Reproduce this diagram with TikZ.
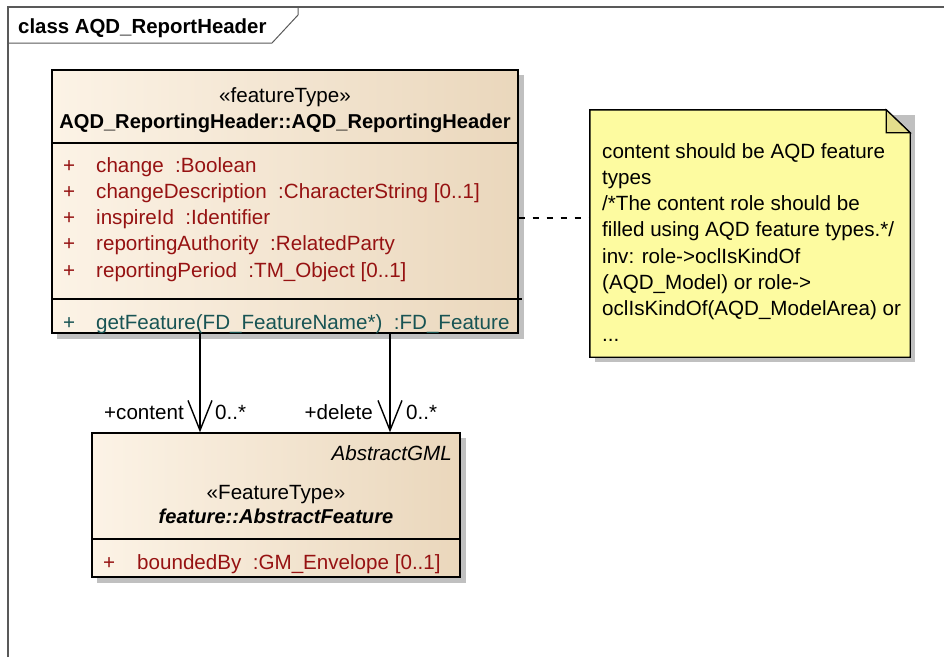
\documentclass[tikz,border=0pt]{standalone}
\usepackage{fontspec}
\setmainfont{Liberation Sans}
\usetikzlibrary{arrows.meta}

\definecolor{boxleft}{RGB}{252,243,230}
\definecolor{boxright}{RGB}{234,215,188}
\definecolor{attrred}{RGB}{150,18,18}
\definecolor{opteal}{RGB}{24,84,84}
\definecolor{noteyellow}{RGB}{253,251,160}
\definecolor{notefold}{RGB}{228,222,140}
\definecolor{shadowgray}{RGB}{192,192,192}

\begin{document}
\begin{tikzpicture}
  [x=1pt,y=-1pt,
   every node/.style={inner sep=0pt, font=\fontsize{20.6}{26}\selectfont},
   boldtext/.style={font=\bfseries\fontsize{20.1}{26}\selectfont},
   classbox/.style={draw=black, line width=1.4pt, left color=boxleft, right color=boxright, shading angle=90},
   attr/.style={anchor=base west, text=attrred},
   oper/.style={anchor=base west, text=opteal},
   assoc/.style={line width=1.4pt, -{Straight Barb[length=30pt,width=24pt,line width=1.4pt]}},
   rolelbl/.style={anchor=base east},
   multlbl/.style={anchor=base west},
   notetext/.style={anchor=base west},
   notelink/.style={line width=1.4pt, dash pattern=on 6pt off 8pt}]
  \useasboundingbox (0,0) rectangle (944,657);

  % diagram frame
  \draw[gray!70!black, line width=1.2pt] (8,657) -- (8,7) -- (944,7);
  \draw[gray!70!black, line width=1pt] (8,43) -- (272,43) -- (298,15) -- (298,7);
  \node[anchor=base west, font=\bfseries\fontsize{20.4}{26}\selectfont] (title) at (18,33) {class AQD\_ReportHeader};

  % reporting header class
  \fill[shadowgray] (57,75) rectangle (524,339);
  \node[classbox, minimum width=466, minimum height=263] (repHdr) at (285,201.5) {};
  \draw[line width=1.4pt] (repHdr.west |- 0,143) -- (repHdr.east |- 0,143);
  \draw[line width=1.4pt] (repHdr.west |- 0,299) -- ([xshift=3]repHdr.east |- 0,299);
  \node[anchor=base] (repHdrSt) at (285,102.7) {«featureType»};
  \node[anchor=base, boldtext] (repHdrName) at (285,128.3) {AQD\_ReportingHeader::AQD\_ReportingHeader};
  \foreach \y/\txt in {172.5/{change\ \ :Boolean},
                       198.3/{changeDescription\ \ :CharacterString [0..1]},
                       224.2/{inspireId\ \ :Identifier},
                       250.6/{reportingAuthority\ \ :RelatedParty},
                       277.2/{reportingPeriod\ \ :TM\_Object [0..1]}}
  {
    \node[attr] at (63,\y) {+};
    \node[attr] at (96,\y) {\txt};
  }
  \node[oper] (opPlus) at (63,329.3) {+};
  \node[oper] (opGet) at (96,329.3) {getFeature(FD\_FeatureName*)\ \ :FD\_Feature};

  % abstract feature class
  \fill[shadowgray] (97,438) rectangle (466,583);
  \node[classbox, minimum width=368, minimum height=144] (absFeat) at (276,505) {};
  \draw[line width=1.4pt] (absFeat.west |- 0,539) -- (absFeat.east |- 0,539);
  \node[anchor=base east, font=\itshape\fontsize{20.6}{26}\selectfont] (absGml) at (452,460.7) {AbstractGML};
  \node[anchor=base] (absFeatSt) at (276,499.3) {«FeatureType»};
  \node[anchor=base, font=\bfseries\itshape\fontsize{20.1}{26}\selectfont] (absFeatName) at (276,523.3) {feature::AbstractFeature};
  \node[attr] (bndPlus) at (103,569.3) {+};
  \node[attr] (bndBy) at (137,569.3) {boundedBy\ \ :GM\_Envelope [0..1]};

  % note
  \node[minimum width=320, minimum height=247] (noteA) at (750,233.5) {};
  \fill[shadowgray] ([shift={(5,5)}]noteA.north west) -- ([shift={(5,5)}]noteA.north east) -- ([shift={(5,5)}]noteA.south east) -- ([shift={(5,5)}]noteA.south west) -- cycle;
  \draw[line width=1.4pt, fill=noteyellow] (noteA.north west) -- ([xshift=-24]noteA.north east) -- ([yshift=-23]noteA.north east) -- (noteA.south east) -- (noteA.south west) -- cycle;
  \draw[line width=1.2pt, fill=notefold] ([xshift=-24]noteA.north east) -- ([xshift=-24,yshift=-23]noteA.north east) -- ([yshift=-23]noteA.north east) -- cycle;
  \foreach \txt [count=\i] in {content should be AQD feature, types,
      /*The content role should be, filled using AQD feature types.*/,
      inv: role->oclIsKindOf, (AQD\_Model) or role->,
      oclIsKindOf(AQD\_ModelArea) or}
    \node[notetext] at ({602},{158.3+26.2*(\i-1)}) {\txt};
  \node[notetext] (noteEnd) at (602,341.7) {...};

  % connectors
  \coordinate (contentSrc) at (200,333);
  \coordinate (deleteSrc) at (390,333);
  \draw[assoc] (contentSrc) -- (contentSrc |- absFeat.north);
  \draw[assoc] (deleteSrc) -- (deleteSrc |- absFeat.north);
  \node[rolelbl] (contentRole) at (184,419.3) {+content};
  \node[multlbl] (contentMult) at (215,419.3) {0..*};
  \node[rolelbl] (deleteRole) at (373,419.3) {+delete};
  \node[multlbl] (deleteMult) at (406,419.3) {0..*};
  \draw[notelink] (repHdr.east |- 0,218) -- (noteA.west |- 0,218);

\end{tikzpicture}
\end{document}
